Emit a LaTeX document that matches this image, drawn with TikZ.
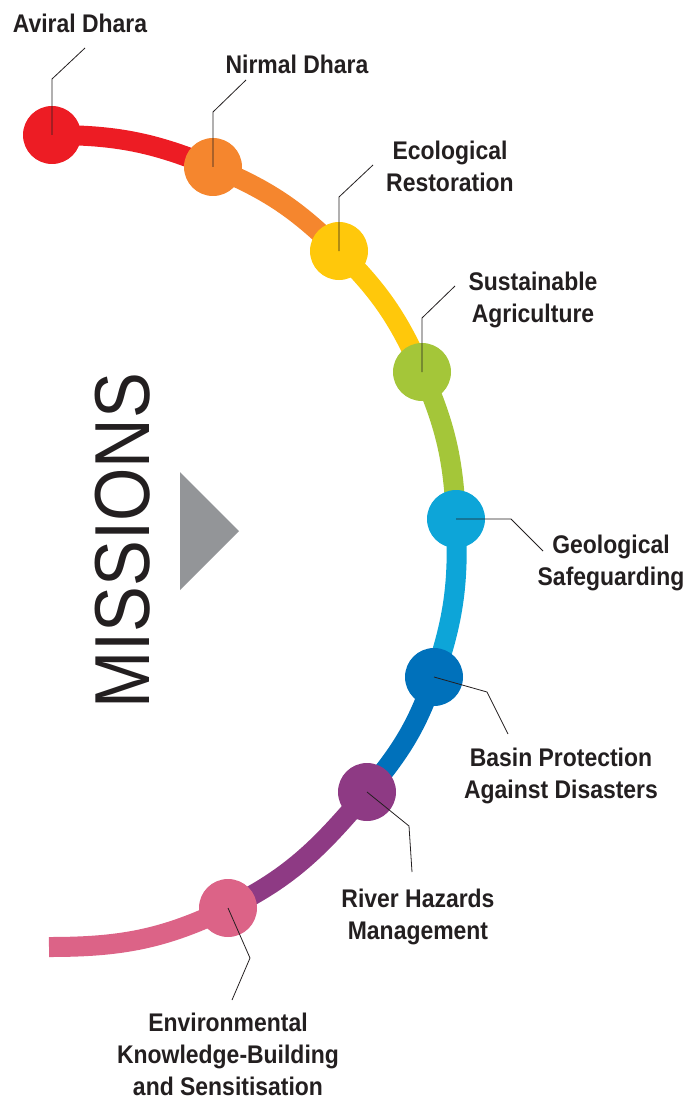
\documentclass[tikz,border=0pt]{standalone}
\usepackage{fontspec}
\setmainfont{Liberation Sans}[FakeStretch=0.9]
\newfontfamily\titlefont{Liberation Sans}[FakeStretch=0.88]
\usetikzlibrary{backgrounds}
\definecolor{ink}{HTML}{231F20}
\definecolor{mred}{HTML}{ED1C24}
\definecolor{morange}{HTML}{F5862E}
\definecolor{myellow}{HTML}{FFC80B}
\definecolor{mgreen}{HTML}{A4C639}
\definecolor{mcyan}{HTML}{0DA5D8}
\definecolor{mblue}{HTML}{0071BB}
\definecolor{mpurple}{HTML}{8E3A84}
\definecolor{mpink}{HTML}{DC6387}
\definecolor{mgray}{HTML}{939598}
\begin{document}
\begin{tikzpicture}[x=1pt, y=1pt,
  dot/.style={circle, fill=#1, minimum size=58pt, inner sep=0pt},
  seg/.style={line width=20pt, draw=#1},
  lead/.style={draw=ink, line width=0.8pt},
  lbl/.style={font=\fontsize{25.5}{32}\selectfont\bfseries, align=center, text=ink, inner sep=0pt}]
  \useasboundingbox (0,0) rectangle (692,-1099);

  % mission dots along the arc
  \node[dot=mred]    (c1) at (52,-135) {};
  \node[dot=morange] (c2) at (213,-167) {};
  \node[dot=myellow] (c3) at (339,-251) {};
  \node[dot=mgreen]  (c4) at (422,-372) {};
  \node[dot=mcyan]   (c5) at (456,-519) {};
  \node[dot=mblue]   (c6) at (434,-677) {};
  \node[dot=mpurple] (c7) at (367,-792) {};
  \node[dot=mpink]   (c8) at (228,-908) {};
  \coordinate (tail) at (49,-947);

  \begin{pgfonlayer}{background}
    \draw[seg=mred]    (c1.center) to[out=0,in=157.5] (c2.center);
    \draw[seg=morange] (c2.center) to[out=-22.5,in=135.3] (c3.center);
    \draw[seg=myellow] (c3.center) to[out=-44.7,in=113.7] (c4.center);
    \draw[seg=mgreen]  (c4.center) to[out=-66.3,in=92.5] (c5.center);
    \draw[seg=mcyan]   (c5.center) to[out=-87.5,in=71] (c6.center);
    \draw[seg=mblue]   (c6.center) to[out=-109,in=49.8] (c7.center);
    \draw[seg=mpurple] (c7.center) to[out=-130.2,in=26] (c8.center);
    \draw[seg=mpink]   (c8.center) to[out=-154,in=0] (tail);
  \end{pgfonlayer}

  % labels
  \node[lbl] (l1) at (80,-23) {Aviral Dhara};
  \node[lbl] (l2) at (297,-64.5) {Nirmal Dhara};
  \node[lbl] (l3) at (450,-166.5) {Ecological\\Restoration};
  \node[lbl] (l4) at (533,-299.5) {Sustainable\\Agriculture};
  \node[lbl] (l5) at (611,-563) {Geological\\Safeguarding};
  \node[lbl] (l6) at (561,-775.5) {Basin Protection\\Against Disasters};
  \node[lbl] (l7) at (418,-917) {River Hazards\\Management};
  \node[lbl] (l8) at (228,-1054.5) {Environmental\\Knowledge-Building\\and Sensitisation};

  % leader lines
  \draw[lead] (c1.center) -- ++(0,56) -- ++(33,31);
  \draw[lead] (c2.center) -- ++(0,55) -- ++(33,32);
  \draw[lead] (c3.center) -- ++(0,54) -- ++(34,32);
  \draw[lead] (c4.center) -- ++(0,54) -- ++(33,32);
  \draw[lead] (c5.center) -- ++(55,0) -- ++(32,-32);
  \draw[lead] (c6.center) -- ++(53,-15) -- ++(21,-42);
  \draw[lead] (c7.center) -- ++(42,-34) -- ++(3,-46);
  \draw[lead] (c8.center) -- ++(22,-50) -- ++(-18,-42);

  % title and pointer
  \node[rotate=90, font=\titlefont\fontsize{78}{78}\selectfont, text=ink, inner sep=0pt] (title) at (123,-541) {MISSIONS};
  \fill[mgray] (180,-472) -- (180,-590) -- (239,-531) -- cycle;
\end{tikzpicture}
\end{document}
